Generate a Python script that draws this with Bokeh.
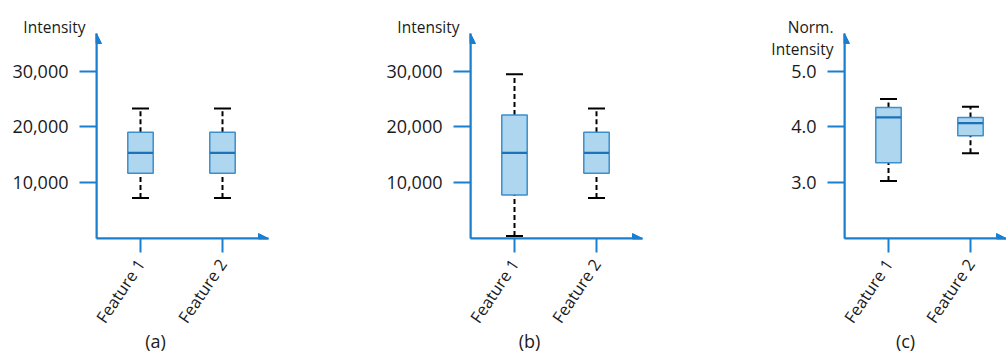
import math
from bokeh.plotting import figure
from bokeh.layouts import row
from bokeh.models import (ColumnDataSource, FixedTicker, NumeralTickFormatter, Arrow,
                          NormalHead, Label, Range1d)
from bokeh.embed import file_html
from bokeh.resources import INLINE

# ---------------- data ----------------
categories = ["Feature 1", "Feature 2"]
positions = [1, 2]

a_low = [7250, 7250]
a_q1 = [11700, 11700]
a_med = [15350, 15350]
a_q3 = [19050, 19050]
a_high = [23300, 23300]

b_low = [450, 7250]
b_q1 = [7800, 11700]
b_med = [15350, 15350]
b_q3 = [22150, 19050]
b_high = [29450, 23300]

c_low = [3.03, 3.53]
c_q1 = [3.36, 3.84]
c_med = [4.17, 4.07]
c_q3 = [4.35, 4.17]
c_high = [4.50, 4.36]

int_ticks = [10000, 20000, 30000]
norm_ticks = [3.0, 4.0, 5.0]

panel_labels = ["(a)", "(b)", "(c)"]

# ---------------- style ----------------
AXIS = "#1a7fcf"
BOX_FILL = "#aed6ee"
BOX_LINE = "#3a8fcd"
MEDIAN = "#1c72b8"
FONT = "Open Sans"
TXT = "#1a1a1a"
PX_PER_UNIT = 82.0
X_START = 1 - 44 / PX_PER_UNIT


def text_label(txt, x, y, size, align):
    return Label(x=x, y=y, x_units="canvas", y_units="canvas", text=txt,
                 text_align=align, text_baseline="middle",
                 text_font=FONT, text_font_size=size, text_color=TXT)


def panel(width, border_left, frame_w, y_lo, y_hi, ticks, fmt, low, q1, med, q3, high):
    x_end = X_START + frame_w / PX_PER_UNIT
    p = figure(width=width, height=352, output_backend="svg", toolbar_location=None,
               x_range=Range1d(X_START, x_end), y_range=Range1d(y_lo, y_hi),
               min_border_left=border_left, min_border_right=width - border_left - frame_w,
               min_border_top=33, min_border_bottom=114, tools="")
    p.outline_line_color = None
    p.grid.visible = False
    p.background_fill_color = "white"
    p.border_fill_color = "white"

    src = ColumnDataSource(dict(x=positions, low=low, q1=q1, med=med, q3=q3, high=high))
    # whiskers (dashed)
    p.segment(x0="x", y0="q3", x1="x", y1="high", source=src, line_color="black",
              line_width=2, line_dash="5 3")
    p.segment(x0="x", y0="low", x1="x", y1="q1", source=src, line_color="black",
              line_width=2, line_dash="5 3")
    # caps
    p.dash(x="x", y="high", size=17, source=src, line_color="black", line_width=2)
    p.dash(x="x", y="low", size=17, source=src, line_color="black", line_width=2)
    # boxes
    p.vbar(x="x", width=0.31, bottom="q1", top="q3", source=src, fill_color=BOX_FILL,
           line_color=BOX_LINE, line_width=1.5)
    p.dash(x="x", y="med", size=25, source=src, line_color=MEDIAN, line_width=2.2)

    # axes
    for ax in (p.xaxis[0], p.yaxis[0]):
        ax.axis_line_color = AXIS
        ax.axis_line_width = 2
        ax.major_tick_line_color = AXIS
        ax.major_tick_line_width = 2
        ax.major_tick_in = 0
        ax.minor_tick_line_color = None
        ax.major_label_text_font = FONT
        ax.major_label_text_color = TXT

    p.yaxis.ticker = FixedTicker(ticks=ticks)
    p.yaxis.formatter = NumeralTickFormatter(format=fmt)
    p.yaxis.major_tick_out = 17
    p.yaxis.major_label_standoff = 11
    p.yaxis.major_label_text_font_size = "18px"

    p.xaxis.ticker = FixedTicker(ticks=positions)
    p.xaxis.major_label_overrides = {pos: cat for pos, cat in zip(positions, categories)}
    p.xaxis.major_tick_out = 14
    p.xaxis.major_label_orientation = math.radians(56)
    p.xaxis.major_label_standoff = 8
    p.xaxis.major_label_text_font_size = "16.5px"
    p.xaxis.major_label_text_baseline = "top"

    # axis arrows
    p.add_layout(Arrow(end=NormalHead(size=10, fill_color=AXIS, line_color=AXIS),
                       x_start=X_START, y_start=y_lo, x_end=X_START, y_end=y_hi,
                       line_color=AXIS, line_width=2))
    p.add_layout(Arrow(end=NormalHead(size=10, fill_color=AXIS, line_color=AXIS),
                       x_start=X_START, y_start=y_lo, x_end=x_end, y_end=y_lo,
                       line_color=AXIS, line_width=2))
    return p


# (a): canvas 0..374, frame at 96
pa = panel(374, 96, 172, 0, 36750, int_ticks, "0,0", a_low, a_q1, a_med, a_q3, a_high)
pa.add_layout(text_label("Intensity", 85, 26.5, "15.5px", "right"), "above")
pa.add_layout(text_label(panel_labels[0], 155, 340, "18px", "center"), "right")

# (b): canvas 374..682, frame at 470
pb = panel(308, 96, 172, 0, 36750, int_ticks, "0,0", b_low, b_q1, b_med, b_q3, b_high)
pb.add_layout(text_label("Intensity", 85, 26.5, "15.5px", "right"), "above")
pb.add_layout(text_label(panel_labels[1], 155, 340, "18px", "center"), "right")

# (c): canvas 682..1006, frame at 844
pc = panel(324, 162, 162, 2.0, 5.675, norm_ticks, "0.0", c_low, c_q1, c_med, c_q3, c_high)
pc.add_layout(text_label("Norm.", 151, 26.5, "15.5px", "right"), "above")
pc.add_layout(text_label("Intensity", 151, 48.3, "15.5px", "right"), "left")
pc.add_layout(text_label(panel_labels[2], 223, 340, "18px", "center"), "left")

layout = row(pa, pb, pc, spacing=0)
open("out.html", "w").write(file_html(layout, INLINE))
